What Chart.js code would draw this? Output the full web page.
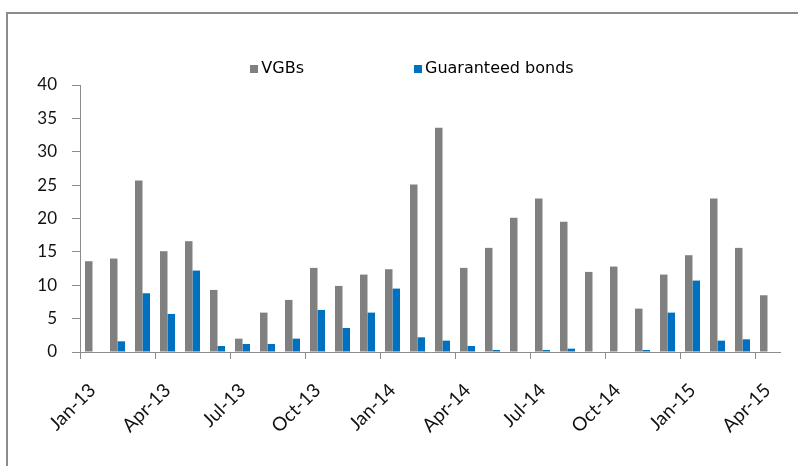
<!DOCTYPE html>
<html>
<head>
<meta charset="utf-8">
<script src="https://cdn.jsdelivr.net/npm/chart.js@4/dist/chart.umd.min.js"></script>
<style>
html,body{margin:0;padding:0;background:#fff;}
#wrap{position:relative;width:798px;height:466px;overflow:hidden;background:#fff;}
#frame{position:absolute;left:6px;top:12px;width:900px;height:600px;border-left:2px solid #8c8c8c;border-top:2px solid #8c8c8c;box-sizing:border-box;}
#c{position:absolute;left:0;top:0;}
</style>
</head>
<body>
<div id="wrap"><div id="frame"></div><canvas id="c" width="798" height="466"></canvas></div>
<script>
const months = ["Jan-13","Feb-13","Mar-13","Apr-13","May-13","Jun-13","Jul-13","Aug-13","Sep-13","Oct-13","Nov-13","Dec-13",
                "Jan-14","Feb-14","Mar-14","Apr-14","May-14","Jun-14","Jul-14","Aug-14","Sep-14","Oct-14","Nov-14","Dec-14",
                "Jan-15","Feb-15","Mar-15","Apr-15"];
const tickLabels = ["Jan-13","Apr-13","Jul-13","Oct-13","Jan-14","Apr-14","Jul-14","Oct-14","Jan-15","Apr-15"];
const vgbs = [13.6, 14.0, 25.7, 15.1, 16.6, 9.3, 2.0, 5.9, 7.8, 12.6, 9.9, 11.6,
              12.4, 25.1, 33.6, 12.6, 15.6, 20.1, 23.0, 19.5, 12.0, 12.8, 6.5, 11.6,
              14.5, 23.0, 15.6, 8.5];
const guaranteed = [0, 1.6, 8.8, 5.7, 12.2, 0.9, 1.2, 1.2, 2.0, 6.3, 3.6, 5.9,
                    9.5, 2.2, 1.7, 0.9, 0.3, 0, 0.3, 0.5, 0, 0, 0.3, 5.9,
                    10.7, 1.7, 1.9, 0];
const yTicks = [0, 5, 10, 15, 20, 25, 30, 35, 40];

const axisColor = '#8c8c8c';

const customLegend = {
  id: 'customLegend',
  afterDraw(chart, args, opts) {
    const ctx = chart.ctx;
    ctx.save();
    ctx.font = '16px "DejaVu Sans"';
    ctx.textBaseline = 'middle';
    const box = 8, gapText = 3, gapItem = 110;
    const items = chart.data.datasets.map(d => ({text: d.label, color: d.backgroundColor, w: ctx.measureText(d.label).width}));
    const total = items.reduce((s, it) => s + box + gapText + it.w, 0) + gapItem * (items.length - 1);
    let x = opts.centerX - total / 2;
    const y = opts.y;
    items.forEach(it => {
      ctx.fillStyle = it.color;
      ctx.fillRect(Math.round(x), Math.round(y - box / 2), box, box);
      ctx.fillStyle = '#000';
      ctx.fillText(it.text, x + box + gapText, y);
      x += box + gapText + it.w + gapItem;
    });
    ctx.restore();
  }
};

new Chart(document.getElementById('c'), {
  type: 'bar',
  data: {
    labels: months,
    datasets: [
      {label: 'VGBs', data: vgbs, backgroundColor: '#808080', borderWidth: 0, categoryPercentage: 0.6, barPercentage: 1.0},
      {label: 'Guaranteed bonds', data: guaranteed, backgroundColor: '#0070C0', borderWidth: 0, categoryPercentage: 0.6, barPercentage: 1.0}
    ]
  },
  plugins: [customLegend],
  options: {
    responsive: false,
    animation: false,
    layout: {padding: {left: 28, right: 18, top: 85, bottom: 0}},
    plugins: {
      legend: {display: false},
      tooltip: {enabled: false},
      customLegend: {centerX: 412, y: 69}
    },
    scales: {
      x: {
        offset: true,
        afterFit: (s) => { s.height = 114; s.paddingRight = 0; s.paddingLeft = 0; },
        grid: {
          display: true, drawOnChartArea: false, drawTicks: true, tickLength: 7, offset: true,
          color: axisColor,
          tickColor: (ctx) => (ctx.index !== undefined && tickLabels.includes(months[ctx.index])) ? axisColor : 'rgba(0,0,0,0)'
        },
        border: {display: true, color: axisColor, width: 1},
        ticks: {
          autoSkip: false, maxRotation: 45, minRotation: 45, padding: 20,
          color: '#111',
          font: {family: 'Lato', size: 19},
          callback: function(v, i) { const m = months[i]; return tickLabels.includes(m) ? m : ''; }
        }
      },
      y: {
        min: 0, max: 40,
        afterBuildTicks: (s) => { s.ticks = yTicks.map(v => ({value: v})); },
        afterFit: (s) => { s.width = 52; },
        grid: {display: true, drawOnChartArea: false, drawTicks: true, tickLength: 8, color: axisColor},
        border: {display: true, color: axisColor, width: 1},
        ticks: {padding: 15, color: '#111', font: {family: 'Lato', size: 17}}
      }
    }
  }
});
</script>
</body>
</html>
